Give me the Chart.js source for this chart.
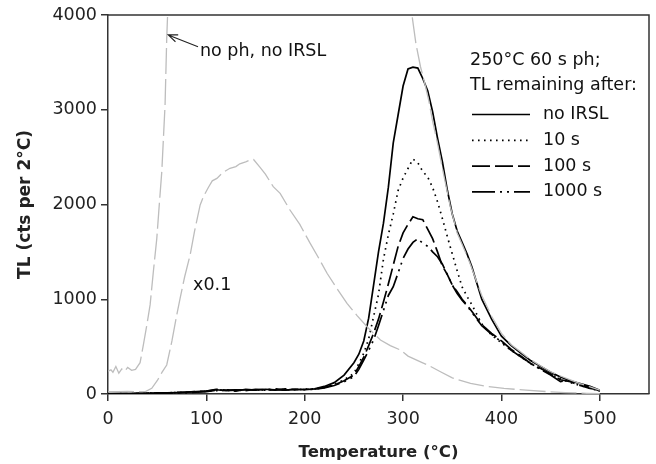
<!DOCTYPE html>
<html>
<head>
<meta charset="utf-8">
<script src="https://cdn.jsdelivr.net/npm/chart.js@4.4.1/dist/chart.umd.min.js"></script>
<style>
  html, body { margin: 0; padding: 0; background: #fff; }
  #wrap { width: 656px; height: 464px; }
</style>
</head>
<body>
<div id="wrap"><canvas id="c" width="656" height="464"></canvas></div>
<script>
// ---- Data ----
const temps = [0,10,20,30,40,50,60,70,80,90,100,110,120,130,140,150,160,170,180,190,200,210,220,230,240,250,255,260,265,270,275,280,285,290,295,300,305,310,315,320,325,330,335,340,345,350,355,360,365,370,375,380,390,400,410,420,430,440,450,460,470,480,490,495,500];
const noIRSL = [5,5,5,8,10,10,12,15,20,25,30,45,35,40,45,40,50,45,40,50,45,55,80,120,200,330,420,560,800,1150,1500,1800,2180,2650,2950,3250,3430,3450,3440,3330,3200,2980,2700,2450,2150,1900,1720,1600,1480,1340,1170,1000,790,610,510,430,350,290,230,180,140,110,80,60,40];
const irsl10 = [0,3,5,5,8,10,12,15,18,22,28,35,40,35,45,45,40,50,45,45,50,55,70,100,150,218,320,430,580,816,1050,1420,1680,1900,2150,2280,2380,2480,2440,2350,2290,2180,2030,1850,1660,1480,1300,1130,1030,940,840,740,620,540,460,390,320,260,210,160,120,90,60,45,30];
const irsl100 = [2,4,3,6,8,12,10,18,20,25,30,50,40,45,35,50,45,40,55,45,50,50,70,95,140,200,290,390,510,640,790,970,1160,1360,1560,1700,1790,1870,1850,1840,1740,1640,1500,1350,1260,1150,1080,1000,940,870,800,730,640,560,470,400,320,270,210,150,130,90,60,50,30];
const irsl1000 = [0,2,4,5,6,8,10,12,15,20,25,40,45,30,50,40,45,55,40,50,45,50,65,90,130,183,260,359,460,570,720,880,1040,1132,1280,1430,1530,1600,1640,1590,1560,1500,1449,1370,1260,1150,1060,990,930,860,790,720,630,550,460,390,320,260,200,130,150,100,70,55,30];
// "no ph, no IRSL" at full scale (leaves the top of the plot between the two visible parts)
const noPhTemps = [0,3,5,8,11,14,17,20,24,28,32.6,36,40,42.8,46,49.6,52,54.7,58,59.7,62,180,306,309,313,317.7,322,326,330,335,340,348,355,360,368,375,380,390,400,410,420,430,440,450,460,470,480,490,500];
const noPhValues = [240,255,230,290,220,265,240,280,250,260,330,520,760,940,1280,1640,1980,2350,3050,3750,4400,null,4300,4000,3700,3454,3280,3103,2880,2646,2380,1977,1700,1580,1380,1180,1040,820,640,520,440,360,295,235,190,150,110,75,40];
// same measurement multiplied by 0.1
const x01Temps = [0,10,20,30,38,44.5,50,55,59.7,65,70,73.3,78,83.5,88,93.7,97,102,106,110.7,117,124,130,134,140,144.6,148,154.8,160,168,175,185,195,205,215,222.7,233,243,253,263.4,270,277,287,297.4,305,317.7,328,338,350,368.6,385,402.6,425,446.7,465,487,500];
const x01Values = [25,25,28,25,25,60,140,230,306,560,840,1010,1240,1467,1720,1995,2082,2180,2250,2276,2340,2382,2400,2430,2450,2470,2475,2390,2320,2188,2118,1942,1790,1600,1420,1274,1110,957,830,710,640,570,510,464,400,340,290,235,170,113,80,60,40,25,15,7,5];

const xTicks = [0,100,200,300,400,500];
const yTicks = [0,1000,2000,3000,4000];
const legendTitle = ['250°C 60 s ph;', 'TL remaining after:'];
const seriesNames = ['no IRSL', '10 s', '100 s', '1000 s'];

const pts = (xs, ys) => xs.map((x, i) => ({x: x, y: ys[i]}));

const FONT = '"DejaVu Sans", sans-serif';
const GRAY = '#bdbdbd';
const AXIS = '#333333';

const blackStyles = [
  {borderDash: [], borderWidth: 1.7},
  {borderDash: [1.6, 4.4], borderWidth: 1.7},
  {borderDash: [18, 5], borderWidth: 1.7},
  {borderDash: [23, 5, 2, 5, 2, 5], borderWidth: 1.7}
];
const blackData = [noIRSL, irsl10, irsl100, irsl1000];

const datasets = [
  {label: 'no ph, no IRSL', data: pts(noPhTemps, noPhValues), borderColor: GRAY, borderWidth: 1.3, borderDash: [26, 5], spanGaps: false, clip: 0},
  {label: 'x0.1', data: pts(x01Temps, x01Values), borderColor: GRAY, borderWidth: 1.3, borderDash: [26, 5], clip: 0}
];
blackData.forEach((vals, i) => {
  datasets.push({label: seriesNames[i], data: pts(temps, vals), borderColor: '#000', borderWidth: blackStyles[i].borderWidth, borderDash: blackStyles[i].borderDash, clip: 0});
});

const decor = {
  id: 'decor',
  afterDatasetsDraw(chart) {
    const {ctx, chartArea: a, scales: {x, y}} = chart;
    ctx.save();
    // frame top and right
    ctx.strokeStyle = AXIS;
    ctx.lineWidth = 1.5;
    ctx.beginPath();
    ctx.moveTo(a.left, a.top);
    ctx.lineTo(a.right, a.top);
    ctx.lineTo(a.right, a.bottom);
    ctx.stroke();

    // annotations
    ctx.fillStyle = '#111';
    ctx.font = '17.5px ' + FONT;
    ctx.textBaseline = 'middle';
    ctx.textAlign = 'left';
    ctx.fillText('no ph, no IRSL', x.getPixelForValue(93.5), y.getPixelForValue(3620));
    ctx.fillText('x0.1', x.getPixelForValue(86.5), y.getPixelForValue(1150));
    // arrow
    const tx = x.getPixelForValue(61.2), ty = y.getPixelForValue(3790);
    const sx = x.getPixelForValue(91.5), sy = y.getPixelForValue(3665);
    ctx.strokeStyle = '#222';
    ctx.lineWidth = 1.1;
    ctx.beginPath();
    ctx.moveTo(sx, sy); ctx.lineTo(tx, ty);
    const ang = Math.atan2(sy - ty, sx - tx);
    const L = 10, w = 0.38;
    ctx.moveTo(tx + L * Math.cos(ang - w), ty + L * Math.sin(ang - w));
    ctx.lineTo(tx, ty);
    ctx.lineTo(tx + L * Math.cos(ang + w), ty + L * Math.sin(ang + w));
    ctx.stroke();

    // legend
    const lx = a.left + 362;
    ctx.fillStyle = '#111';
    ctx.fillText(legendTitle[0], lx, a.top + 45);
    ctx.fillText(legendTitle[1], lx, a.top + 70);
    for (let i = 0; i < seriesNames.length; i++) {
      const ry = a.top + 99.5 + i * 25.8;
      ctx.strokeStyle = '#000';
      ctx.lineWidth = blackStyles[i].borderWidth;
      ctx.setLineDash(blackStyles[i].borderDash);
      ctx.beginPath();
      ctx.moveTo(lx + 2, ry);
      ctx.lineTo(lx + 60, ry);
      ctx.stroke();
      ctx.setLineDash([]);
      ctx.fillText(seriesNames[i], lx + 73, ry);
    }
    ctx.restore();
  }
};

new Chart(document.getElementById('c'), {
  type: 'line',
  data: {datasets: datasets},
  plugins: [decor],
  options: {
    responsive: false,
    animation: false,
    events: [],
    layout: {padding: {top: 15, right: 7, left: 0, bottom: 0}},
    elements: {point: {radius: 0}, line: {tension: 0, fill: false}},
    plugins: {legend: {display: false}, tooltip: {enabled: false}},
    scales: {
      x: {
        type: 'linear', min: 0, max: 550,
        afterFit(s) { s.height = 70; },
        afterBuildTicks(s) { s.ticks = xTicks.map(v => ({value: v})); },
        grid: {display: true, drawOnChartArea: false, drawTicks: true, tickLength: 7, color: AXIS, lineWidth: 1.5},
        border: {display: true, color: AXIS, width: 1.5},
        ticks: {font: {family: FONT, size: 17.5}, color: '#222', padding: 8, maxRotation: 0, autoSkip: false, callback: v => String(v)},
        title: {display: true, text: 'Temperature (°C)', font: {family: FONT, size: 16.5, weight: 'bold'}, color: '#222', padding: {top: 0, bottom: 1}}
      },
      y: {
        type: 'linear', min: 0, max: 4000,
        afterFit(s) { s.width = 108; },
        afterBuildTicks(s) { s.ticks = yTicks.map(v => ({value: v})); },
        grid: {display: true, drawOnChartArea: false, drawTicks: true, tickLength: 7, color: AXIS, lineWidth: 1.5},
        border: {display: true, color: AXIS, width: 1.5},
        ticks: {font: {family: FONT, size: 17.5}, color: '#222', padding: 4, callback: v => String(v)},
        title: {display: true, text: 'TL (cts per 2°C)', font: {family: FONT, size: 17, weight: 'bold'}, color: '#222', padding: {top: 15, bottom: 0}}
      }
    }
  }
});
</script>
</body>
</html>
